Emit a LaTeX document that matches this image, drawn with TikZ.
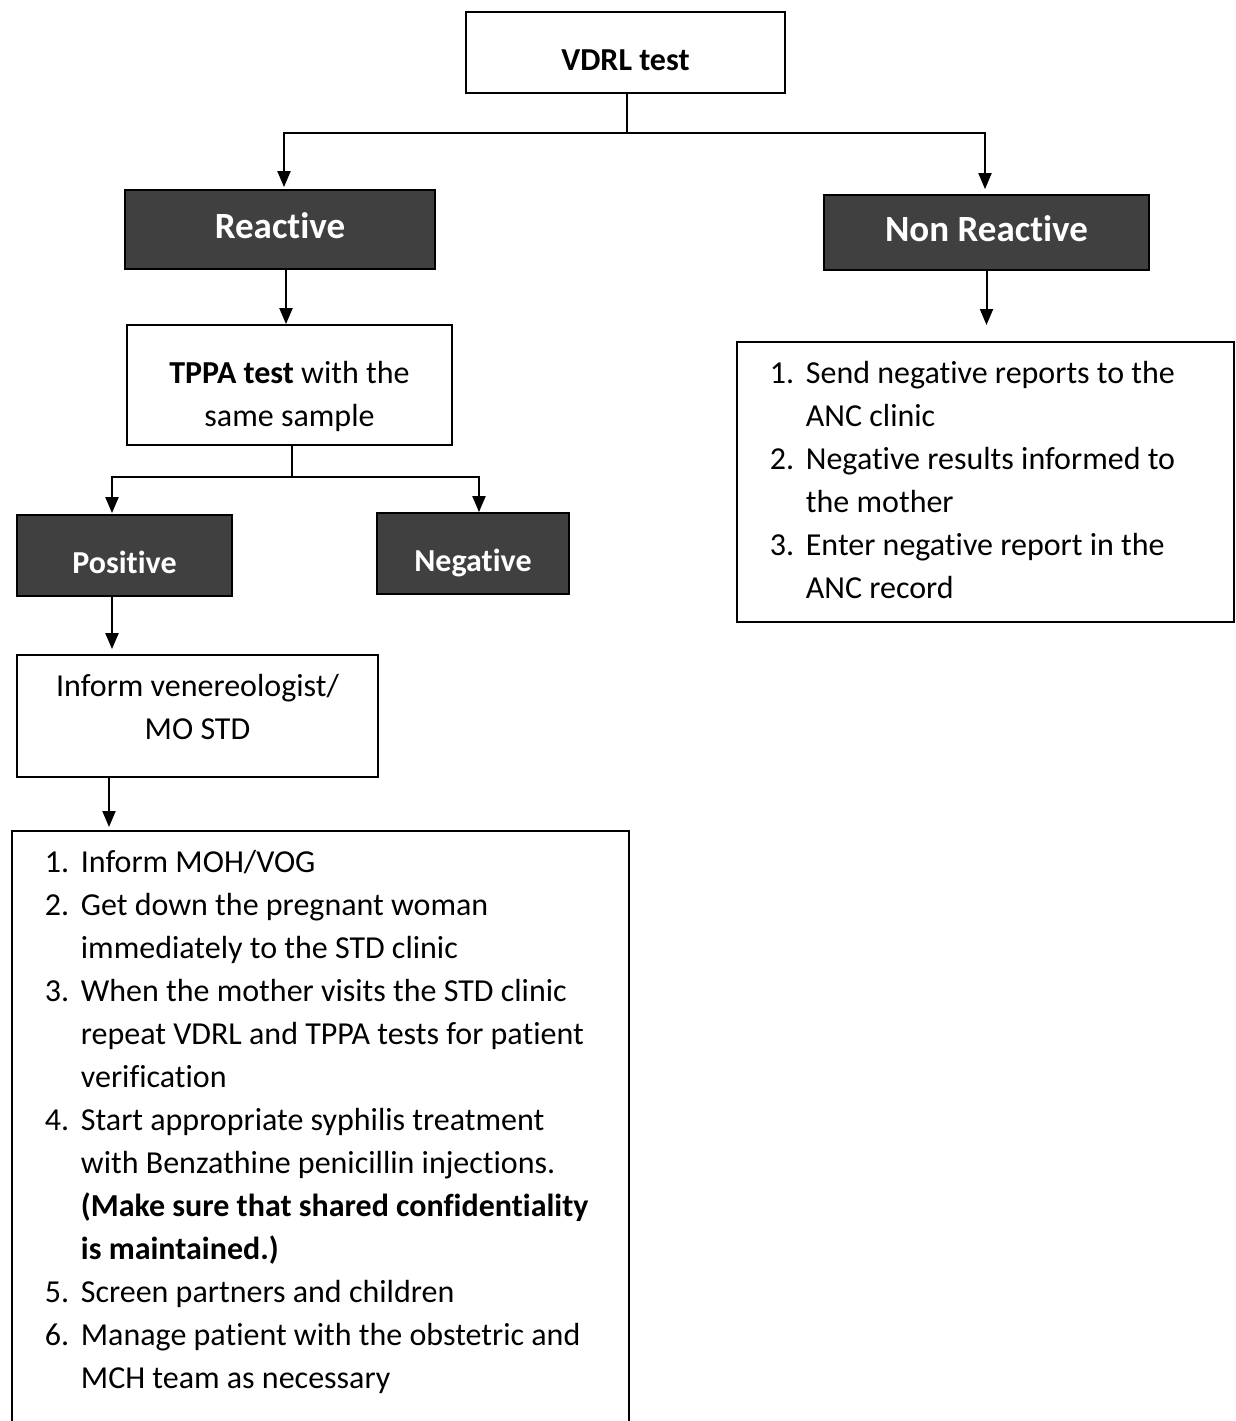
\documentclass[tikz,border=0pt]{standalone}
\usepackage{fontspec}
\setmainfont[RawFeature={-liga;-clig;-calt;-dlig}]{Carlito}
\usetikzlibrary{arrows.meta}
\definecolor{boxgray}{HTML}{404040}
\newcommand\bodyfont{\fontsize{32}{43}\selectfont}
\newcommand\bigfont{\fontsize{37}{44}\selectfont\bfseries}
% move the text inside a box without changing the box
\newcommand\lift[2]{\raisebox{#1}[\height][\depth]{#2}}
% let a box run on below the page
\newcommand\deepen[1]{\raisebox{0pt}[\height][\dimexpr\depth+100pt\relax]{#1}}

\begin{document}
\begin{tikzpicture}[x=1pt, y=-1pt,
  plainbox/.style={draw, line width=1.8pt, fill=white, inner sep=0pt, font=\bodyfont},
  darkbox/.style={plainbox, fill=boxgray, text=white, font=\bodyfont\bfseries},
  arr/.style={-{Triangle[width=13pt,length=16pt]}, line width=2pt}]
  \useasboundingbox (0,0) rectangle (1235,1421);
  \clip (0,0) rectangle (1235,1421);

  % tests
  \node[plainbox, minimum width=319pt, minimum height=81pt] (vdrl) at (625.5,52.5) {\lift{-7.5pt}{\textbf{VDRL test}}};
  \node[darkbox, font=\bigfont, minimum width=310pt, minimum height=79pt] (reactive) at (280,229.5) {\lift{3.5pt}{Reactive}};
  \node[darkbox, font=\bigfont, minimum width=325pt, minimum height=75pt] (nonreactive) at (986.5,232.5) {\lift{3.5pt}{Non Reactive}};
  \node[plainbox, minimum width=325pt, minimum height=120pt] (tppa) at (289.5,385) {\lift{-11pt}{\begin{tabular}{@{}c@{}}\textbf{TPPA test} with the\\ same sample\end{tabular}}};
  \node[darkbox, minimum width=215pt, minimum height=81pt] (positive) at (124.5,555.5) {\lift{-6.5pt}{Positive}};
  \node[darkbox, minimum width=192pt, minimum height=81pt] (negative) at (473,553.5) {\lift{-9.5pt}{Negative}};
  \node[plainbox, minimum width=361pt, minimum height=122pt] (inform) at (197.5,716) {\lift{7pt}{\begin{tabular}{@{}c@{}}Inform venereologist/\\ MO STD\end{tabular}}};

  % what to do
  \node[plainbox, anchor=north west, inner xsep=33pt, inner ysep=11pt] (advice) at (736,341) {%
    \begin{tabular}{@{}p{36pt}@{}p{395pt}@{}}
      1. & Send negative reports to the\\
         & ANC clinic\\
      2. & Negative results informed to\\
         & the mother\\
      3. & Enter negative report in the\\
         & ANC record
    \end{tabular}};
  \node[plainbox, anchor=north west, inner xsep=33pt, inner ysep=11pt] (care) at (11,830) {\deepen{%
    \begin{tabular}{@{}p{36pt}@{}p{515pt}@{}}
      1. & Inform MOH/VOG\\
      2. & Get down the pregnant woman\\
         & immediately to the STD clinic\\
      3. & When the mother visits the STD clinic\\
         & repeat VDRL and TPPA tests for patient\\
         & verification\\
      4. & Start appropriate syphilis treatment\\
         & with Benzathine penicillin injections.\\
         & \textbf{(Make sure that shared confidentiality}\\
         & \textbf{is maintained.)}\\
      5. & Screen partners and children\\
      6. & Manage patient with the obstetric and\\
         & MCH team as necessary
    \end{tabular}}};

  % connectors
  \coordinate (vsplit) at (627,133);
  \coordinate (tsplit) at (292,477);
  \draw[line width=2pt] ([xshift=1.5pt]vdrl.south) -- (vsplit);
  \draw[arr, shorten >=2pt] (vsplit) -| ([xshift=4pt]reactive.north);
  \draw[arr, shorten >=5pt] (vsplit) -| ([xshift=-1.5pt]nonreactive.north);
  \draw[arr] ([xshift=6pt]reactive.south) -- ([xshift=-3.5pt]tppa.north);
  \draw[arr, shorten >=16pt] (nonreactive.south) -- (nonreactive.south |- advice.north);
  \draw[line width=2pt] ([xshift=2.5pt]tppa.south) -- (tsplit);
  \draw[arr, shorten >=1pt] (tsplit) -| ([xshift=-12.5pt]positive.north);
  \draw[arr] (tsplit) -| ([xshift=6pt]negative.north);
  \draw[arr, shorten >=5pt] ([xshift=-12.5pt]positive.south) -- ([xshift=-85.5pt]inform.north);
  \draw[arr, shorten >=3pt] ([xshift=-88.5pt]inform.south) -- ([xshift=-88.5pt]inform.south |- care.north);
\end{tikzpicture}
\end{document}
